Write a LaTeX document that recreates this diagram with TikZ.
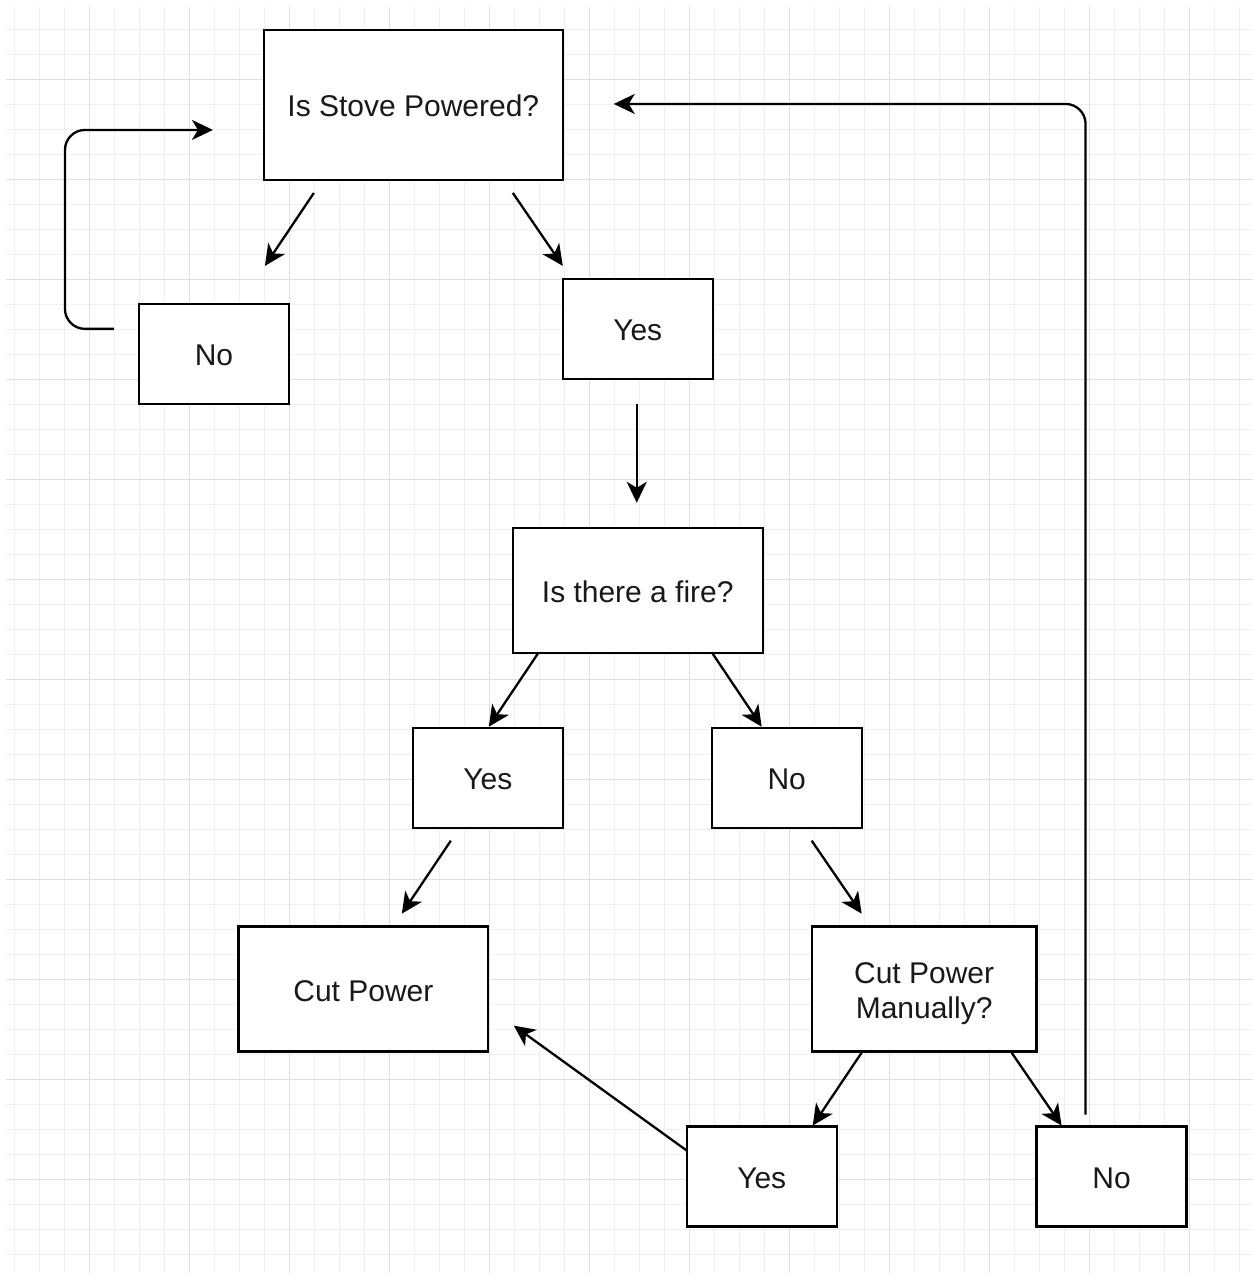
\documentclass[tikz,border=0pt]{standalone}
\usepackage{fontspec}
\setmainfont{Liberation Sans}
\usetikzlibrary{arrows.meta}
\newcommand{\FB}{\fontsize{30}{35}\selectfont}

\begin{document}
\begin{tikzpicture}[x=1pt,y=-1pt]
\tikzstyle{box}=[draw=black,line width=2.3pt,fill=white,inner sep=0pt,align=center,font=\FB,text=black!90,text height=30pt,text depth=6pt]
\tikzstyle{line}=[black,line width=2.3pt,-{Stealth[length=21pt,width=20pt,inset=6pt]}]
\tikzstyle{minor}=[black!6,line width=1pt]
\tikzstyle{major}=[black!12,line width=1pt]

\fill[white] (0,0) rectangle (1253,1273);
\foreach \x in {15,40,...,1240} \draw[minor] (\x,7) -- (\x,1273);
\foreach \y in {30,55,...,1255} \draw[minor] (6,\y) -- (1253,\y);
\foreach \x in {90,190,...,1190} \draw[major] (\x,7) -- (\x,1273);
\foreach \y in {80,180,...,1180} \draw[major] (6,\y) -- (1253,\y);

\node[box,minimum width=299pt,minimum height=150pt] (stove) at (413.5,105) {Is Stove Powered?};
\node[box,minimum width=150pt,minimum height=100pt] (pwrno) at (214,354) {No};
\node[box,minimum width=150pt,minimum height=100pt] (pwryes) at (638,329) {Yes};
\node[box,minimum width=250pt,minimum height=125pt] (fire) at (638,590.5) {Is there a fire?};
\node[box,minimum width=150pt,minimum height=100pt] (fireyes) at (488,778) {Yes};
\node[box,minimum width=150pt,minimum height=100pt] (fireno) at (787,778) {No};
\node[box,minimum width=250pt,minimum height=125pt] (cutpower) at (363.5,989.5) {Cut Power};
\node[box,minimum width=225pt,minimum height=125pt,text height=65pt] (manual) at (924.5,989.5) {Cut Power\\Manually?};
\node[box,minimum width=150pt,minimum height=100pt] (manyes) at (762,1177) {Yes};
\node[box,minimum width=150pt,minimum height=100pt] (manno) at (1112,1177) {No};

\coordinate (s1) at (314,193);  \coordinate (e1) at (265,266);
\coordinate (s2) at (513,193);  \coordinate (e2) at (563,266);
\coordinate (s3) at (637,404);  \coordinate (e3) at (637,503);
\coordinate (s4) at (538,654);  \coordinate (e4) at (489,727);
\coordinate (s5) at (713,654);  \coordinate (e5) at (762,727);
\coordinate (s6) at (451,841);  \coordinate (e6) at (402,914);
\coordinate (s7) at (812,841);  \coordinate (e7) at (862,914);
\coordinate (s8) at (862,1053); \coordinate (e8) at (813,1126);
\coordinate (s9) at (1012,1053); \coordinate (e9) at (1062,1126);
\coordinate (s10) at (687,1151); \coordinate (e10) at (514,1026);
\coordinate (loopa) at (114,329); \coordinate (loopb) at (213,130);
\coordinate (loopc) at (1086,1115); \coordinate (loopd) at (614,104);

\draw[line] (s1) -- (e1);
\draw[line] (s2) -- (e2);
\draw[line] (s3) -- (e3);
\draw[line] (s4) -- (e4);
\draw[line] (s5) -- (e5);
\draw[line] (s6) -- (e6);
\draw[line] (s7) -- (e7);
\draw[line] (s8) -- (e8);
\draw[line] (s9) -- (e9);
\draw[line] (s10) -- (e10);

\draw[line,rounded corners=20pt] (loopa) -- (65,329) -- (65,130) -- (loopb);
\draw[line,rounded corners=20pt] (loopc) -- (1086,104) -- (loopd);
\end{tikzpicture}
\end{document}
